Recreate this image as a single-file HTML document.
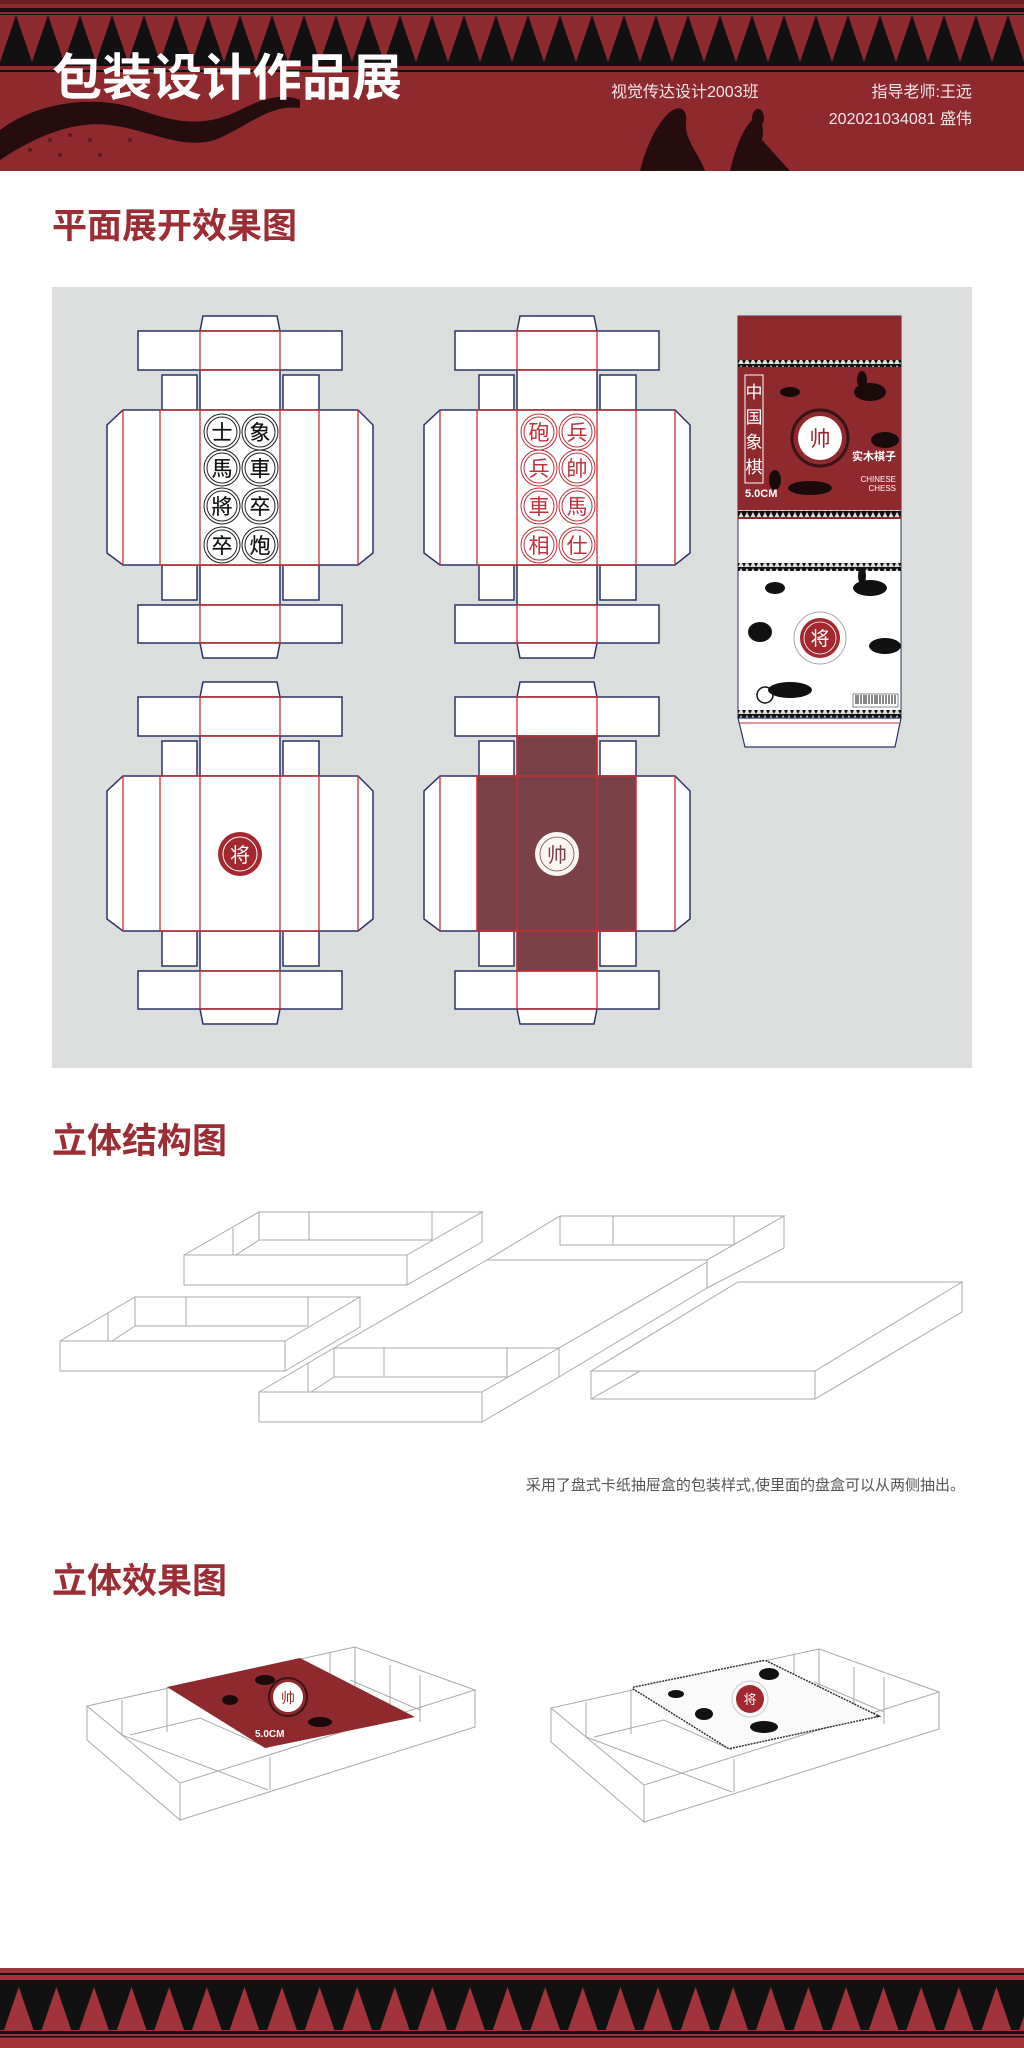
<!DOCTYPE html>
<html><head><meta charset="utf-8"><style>
html,body{margin:0;padding:0;background:#fff}
svg{display:block}
text{font-family:"Liberation Sans","Noto Sans CJK SC",sans-serif}
</style></head><body>
<svg width="1024" height="2048" viewBox="0 0 1024 2048" xmlns="http://www.w3.org/2000/svg">
<defs>
<pattern id="triH" x="0" y="15" width="32" height="47" patternUnits="userSpaceOnUse">
<rect width="32" height="47" fill="#8e2a2e"/><polygon points="0,47 16,0 32,47" fill="#111"/></pattern>
<pattern id="triF" x="0" y="1984" width="37.6" height="46" patternUnits="userSpaceOnUse">
<rect width="37.6" height="46" fill="#111"/><polygon points="4,46 18.8,3 33.6,46" fill="#a3333a"/></pattern>
<pattern id="triS" x="0" y="0" width="6" height="7" patternUnits="userSpaceOnUse">
<rect width="6" height="7" fill="#111"/><polygon points="0,7 3,1 6,7" fill="#ddd"/></pattern>
<g id="net">
 <polygon points="200,331 203,316 277,316 280,331" fill="#fff" stroke="#2b3468" stroke-width="1.5"/>
 <rect x="138" y="331" width="204" height="39" fill="#fff" stroke="#2b3468" stroke-width="1.5"/>
 <rect x="200" y="370" width="80" height="40" fill="#fff" stroke="#2b3468" stroke-width="1.5"/>
 <rect x="162" y="375" width="35" height="35" fill="#fff" stroke="#2b3468" stroke-width="1.5"/>
 <rect x="283" y="375" width="36" height="35" fill="#fff" stroke="#2b3468" stroke-width="1.5"/>
 <rect x="162" y="565" width="35" height="35" fill="#fff" stroke="#2b3468" stroke-width="1.5"/>
 <rect x="283" y="565" width="36" height="35" fill="#fff" stroke="#2b3468" stroke-width="1.5"/>
 <rect x="200" y="565" width="80" height="40" fill="#fff" stroke="#2b3468" stroke-width="1.5"/>
 <rect x="138" y="605" width="204" height="38" fill="#fff" stroke="#2b3468" stroke-width="1.5"/>
 <polygon points="200,643 203,658 277,658 280,643" fill="#fff" stroke="#2b3468" stroke-width="1.5"/>
 <polygon points="123,410 358,410 373,425 373,553 358,565 123,565 107,553 107,425" fill="#fff" stroke="#2b3468" stroke-width="1.5"/>
 <g stroke="#d42a2a" stroke-width="1.3" fill="none">
  <rect x="200" y="331" width="80" height="39"/>
  <rect x="200" y="605" width="80" height="38"/>
  <line x1="123" y1="410" x2="123" y2="565"/><line x1="358" y1="410" x2="358" y2="565"/>
  <rect x="160" y="410" width="159" height="155"/>
  <line x1="200" y1="410" x2="200" y2="565"/><line x1="280" y1="410" x2="280" y2="565"/>
 </g>
</g>
</defs>

<!-- header -->
<rect x="0" y="0" width="1024" height="171" fill="#8e2a2e"/>
<rect x="0" y="0" width="1024" height="4" fill="#6d1f22"/>
<rect x="0" y="8" width="1024" height="4" fill="#111"/>
<rect x="0" y="14" width="1024" height="1.5" fill="#111"/>
<rect x="0" y="15" width="1024" height="47" fill="url(#triH)"/>
<rect x="0" y="62" width="1024" height="4" fill="#111"/>
<rect x="0" y="70" width="1024" height="2" fill="#111"/>
<g fill="#1a0a0a" opacity="0.9">
 <path d="M0,130 C40,100 100,95 140,110 C170,120 200,130 240,110 C260,100 280,92 300,100 L300,108 C270,104 250,125 215,140 C180,150 150,130 110,125 C70,120 30,140 0,160 Z"/>
 <path d="M640,171 C645,150 655,125 670,112 C680,104 688,110 686,122 C684,140 700,155 705,171 Z"/>
 <path d="M730,171 C735,150 742,130 752,120 C760,115 765,125 762,140 L790,171 Z"/>
 <ellipse cx="758" cy="118" rx="6" ry="9"/>
</g>
<g fill="#2a0f10" opacity="0.55">
 <circle cx="30" cy="150" r="2"/><circle cx="50" cy="140" r="2"/><circle cx="70" cy="135" r="2"/><circle cx="90" cy="140" r="2"/><circle cx="60" cy="155" r="2"/><circle cx="100" cy="155" r="2"/><circle cx="130" cy="140" r="2"/>
</g>
<text x="52" y="95" font-size="50" font-weight="bold" fill="#fff">包装设计作品展</text>
<text x="611" y="97" font-size="16" fill="#f2e6e6">视觉传达设计2003班</text>
<text x="972" y="97" font-size="16" fill="#f2e6e6" text-anchor="end">指导老师:王远</text>
<text x="972" y="124" font-size="16" fill="#f2e6e6" text-anchor="end">202021034081  盛伟</text>

<!-- section 1 -->
<text x="52" y="238" font-size="35" font-weight="bold" fill="#9b2d35">平面展开效果图</text>
<rect x="52" y="287" width="920" height="781" fill="#dcdddd"/>

<use href="#net"/>
<g font-size="21" text-anchor="middle" fill="#111" stroke="#111" stroke-width="0.2">
 <g fill="none" stroke="#222" stroke-width="1">
  <circle cx="222" cy="432" r="18"/><circle cx="222" cy="432" r="15"/>
  <circle cx="260" cy="432" r="18"/><circle cx="260" cy="432" r="15"/>
  <circle cx="222" cy="468" r="18"/><circle cx="222" cy="468" r="15"/>
  <circle cx="260" cy="468" r="18"/><circle cx="260" cy="468" r="15"/>
  <circle cx="222" cy="506" r="18"/><circle cx="222" cy="506" r="15"/>
  <circle cx="260" cy="506" r="18"/><circle cx="260" cy="506" r="15"/>
  <circle cx="222" cy="545" r="18"/><circle cx="222" cy="545" r="15"/>
  <circle cx="260" cy="545" r="18"/><circle cx="260" cy="545" r="15"/>
 </g>
 <text x="222" y="440">士</text><text x="260" y="440">象</text>
 <text x="222" y="476">馬</text><text x="260" y="476">車</text>
 <text x="222" y="514">將</text><text x="260" y="514">卒</text>
 <text x="222" y="553">卒</text><text x="260" y="553">炮</text>
</g>

<g transform="translate(317,0)">
<use href="#net"/>
<g font-size="21" text-anchor="middle" fill="#c0323a">
 <g fill="none" stroke="#c0323a" stroke-width="1">
  <circle cx="222" cy="432" r="18"/><circle cx="222" cy="432" r="15"/>
  <circle cx="260" cy="432" r="18"/><circle cx="260" cy="432" r="15"/>
  <circle cx="222" cy="468" r="18"/><circle cx="222" cy="468" r="15"/>
  <circle cx="260" cy="468" r="18"/><circle cx="260" cy="468" r="15"/>
  <circle cx="222" cy="506" r="18"/><circle cx="222" cy="506" r="15"/>
  <circle cx="260" cy="506" r="18"/><circle cx="260" cy="506" r="15"/>
  <circle cx="222" cy="545" r="18"/><circle cx="222" cy="545" r="15"/>
  <circle cx="260" cy="545" r="18"/><circle cx="260" cy="545" r="15"/>
 </g>
 <text x="222" y="440">砲</text><text x="260" y="440">兵</text>
 <text x="222" y="476">兵</text><text x="260" y="476">帥</text>
 <text x="222" y="514">車</text><text x="260" y="514">馬</text>
 <text x="222" y="553">相</text><text x="260" y="553">仕</text>
</g>
</g>

<g transform="translate(0,366)">
<use href="#net"/>
<circle cx="240" cy="488" r="22" fill="#a3282f"/>
<circle cx="240" cy="488" r="17" fill="none" stroke="#fff" stroke-width="1"/>
<text x="240" y="496" font-size="20" fill="#fff" text-anchor="middle">将</text>
</g>

<g transform="translate(317,366)">
<use href="#net"/>
<rect x="200" y="370" width="80" height="235" fill="#7a4246"/>
<rect x="160" y="410" width="159" height="155" fill="#7a4246"/>
<g stroke="#d42a2a" stroke-width="1.3" fill="none">
 <rect x="160" y="410" width="159" height="155"/>
 <line x1="200" y1="370" x2="200" y2="605"/><line x1="280" y1="370" x2="280" y2="605"/>
 <line x1="200" y1="370" x2="280" y2="370"/><line x1="200" y1="605" x2="280" y2="605"/>
</g>
<circle cx="240" cy="488" r="22" fill="#fbf6f2"/>
<circle cx="240" cy="488" r="17" fill="none" stroke="#7a4246" stroke-width="0.8"/>
<text x="240" y="496" font-size="20" fill="#7a4246" text-anchor="middle">帅</text>
</g>

<!-- right panel -->
<rect x="738" y="316" width="163" height="402" fill="#fff" stroke="#2b3468" stroke-width="1"/>
<rect x="738" y="316" width="163" height="203" fill="#8e2a2e"/>
<rect x="738" y="360" width="163" height="7" fill="url(#triS)"/>
<rect x="738" y="510" width="163" height="7" fill="url(#triS)"/>
<g fill="#1a0b0b">
 <ellipse cx="870" cy="392" rx="16" ry="9"/><ellipse cx="862" cy="380" rx="5" ry="9"/>
 <ellipse cx="790" cy="392" rx="10" ry="5"/>
 <ellipse cx="810" cy="488" rx="22" ry="7"/><ellipse cx="775" cy="480" rx="6" ry="10"/>
 <ellipse cx="885" cy="440" rx="14" ry="8"/>
</g>
<rect x="745" y="375" width="18" height="108" fill="none" stroke="#fff" stroke-width="1"/>
<g font-size="17" fill="#fff" text-anchor="middle" font-family="Noto Sans CJK SC">
 <text x="754" y="398">中</text><text x="754" y="423">国</text><text x="754" y="448">象</text><text x="754" y="473">棋</text>
</g>
<circle cx="820" cy="438" r="28" fill="none" stroke="#3a1414" stroke-width="3"/>
<circle cx="820" cy="438" r="22" fill="#fff"/>
<text x="820" y="446" font-size="21" fill="#8e2a2e" text-anchor="middle">帅</text>
<text x="896" y="460" font-size="11" font-weight="bold" fill="#fff" text-anchor="end">实木棋子</text>
<text x="896" y="482" font-size="8" fill="#fff" text-anchor="end">CHINESE</text>
<text x="896" y="491" font-size="8" fill="#fff" text-anchor="end">CHESS</text>
<text x="745" y="497" font-size="11" font-weight="bold" fill="#fff">5.0CM</text>
<rect x="738" y="563" width="163" height="8" fill="url(#triS)"/>
<rect x="738" y="710" width="163" height="8" fill="url(#triS)"/>
<g fill="#111">
 <ellipse cx="870" cy="588" rx="17" ry="8"/><ellipse cx="862" cy="576" rx="4" ry="9"/>
 <ellipse cx="760" cy="632" rx="12" ry="10"/><ellipse cx="885" cy="646" rx="16" ry="8"/>
 <ellipse cx="790" cy="690" rx="22" ry="8"/><circle cx="765" cy="695" r="8" fill="none" stroke="#111" stroke-width="1.5"/>
 <ellipse cx="775" cy="588" rx="10" ry="6"/>
</g>
<circle cx="820" cy="638" r="26" fill="none" stroke="#aaa" stroke-width="1"/>
<circle cx="820" cy="638" r="20" fill="#a3282f"/>
<circle cx="820" cy="638" r="16" fill="none" stroke="#fff" stroke-width="0.8"/>
<text x="820" y="645" font-size="19" fill="#fff" text-anchor="middle">将</text>
<rect x="853" y="694" width="45" height="13" fill="#fff" stroke="#111" stroke-width="0.5"/>
<g stroke="#111" stroke-width="1"><path d="M856,695v9M858,695v9M861,695v9M864,695v9M866,695v9M869,695v9M872,695v9M875,695v9M877,695v9M880,695v9M883,695v9M886,695v9M889,695v9M892,695v9M895,695v9"/></g>
<polygon points="738,718 901,718 895,747 745,747" fill="#fff" stroke="#2b3468" stroke-width="1.2"/>
<line x1="740" y1="723" x2="899" y2="723" stroke="#c0323a" stroke-width="1"/>

<!-- section 2 -->
<text x="52" y="1153" font-size="35" font-weight="bold" fill="#9b2d35">立体结构图</text>
<g fill="none" stroke="#aaa" stroke-width="1">
 <rect x="184" y="1255" width="223" height="30" fill="#fff"/>
 <polyline points="184,1255 259,1212 482,1212 407,1255"/>
 <polyline points="482,1212 482,1242 407,1285"/>
 <line x1="259" y1="1212" x2="259" y2="1240"/><line x1="259" y1="1240" x2="432" y2="1240"/>
 <line x1="309" y1="1212" x2="309" y2="1240"/><line x1="432" y1="1212" x2="432" y2="1240"/>
 <line x1="233" y1="1228" x2="233" y2="1255"/><line x1="259" y1="1240" x2="236" y2="1255"/>
 <rect x="60" y="1341" width="225" height="30" fill="#fff"/>
 <polyline points="60,1341 135,1297 360,1297 285,1341"/>
 <polyline points="360,1297 360,1327 285,1371"/>
 <line x1="135" y1="1297" x2="135" y2="1326"/><line x1="135" y1="1326" x2="308" y2="1326"/>
 <line x1="186" y1="1297" x2="186" y2="1326"/><line x1="308" y1="1297" x2="308" y2="1326"/>
 <line x1="108" y1="1313" x2="108" y2="1341"/><line x1="135" y1="1326" x2="112" y2="1341"/>
 <line x1="334" y1="1348" x2="487" y2="1260"/>
 <line x1="559" y1="1348" x2="707" y2="1262"/>
 <line x1="559" y1="1377" x2="707" y2="1288"/>
 <polyline points="487,1260 560,1216 784,1216 707,1260 487,1260"/>
 <line x1="707" y1="1260" x2="707" y2="1288"/>
 <polyline points="784,1216 784,1248 707,1288"/>
 <line x1="560" y1="1216" x2="560" y2="1245"/><line x1="560" y1="1245" x2="733" y2="1245"/>
 <line x1="613" y1="1216" x2="613" y2="1245"/><line x1="734" y1="1216" x2="734" y2="1245"/>
 <rect x="259" y="1392" width="223" height="30" fill="#fff"/>
 <polyline points="259,1392 334,1348 559,1348 482,1392"/>
 <polyline points="559,1348 559,1377 482,1422"/>
 <line x1="334" y1="1348" x2="334" y2="1377"/><line x1="334" y1="1377" x2="507" y2="1377"/>
 <line x1="384" y1="1348" x2="384" y2="1377"/><line x1="507" y1="1348" x2="507" y2="1377"/>
 <line x1="308" y1="1364" x2="308" y2="1392"/><line x1="334" y1="1377" x2="311" y2="1392"/>
 <polygon points="738,1282 962,1282 815,1371 591,1371" fill="#fff"/>
 <rect x="591" y="1371" width="224" height="28" fill="#fff"/>
 <polyline points="962,1282 962,1312 815,1399"/>
 <line x1="591" y1="1399" x2="640" y2="1371"/>
</g>
<text x="965" y="1490" font-size="15" fill="#555" text-anchor="end">采用了盘式卡纸抽屉盒的包装样式,使里面的盘盒可以从两侧抽出。</text>

<!-- section 3 -->
<text x="52" y="1593" font-size="35" font-weight="bold" fill="#9b2d35">立体效果图</text>
<g id="box3d" fill="none" stroke="#aaa" stroke-width="1">
 <polygon points="87,1706 355,1647 475,1690 180,1783" fill="#fff"/>
 <polyline points="87,1706 87,1740 180,1820 180,1783"/>
 <polyline points="180,1820 475,1727 475,1690"/>
 <line x1="270" y1="1757" x2="270" y2="1790"/>
 <polyline points="122,1700 122,1735 268,1790"/>
 <polyline points="130,1735 200,1718 268,1748"/>
 <line x1="167" y1="1687" x2="167" y2="1732"/>
 <line x1="330" y1="1653" x2="330" y2="1700"/><line x1="355" y1="1647" x2="355" y2="1695"/>
 <line x1="390" y1="1665" x2="390" y2="1712"/><line x1="420" y1="1675" x2="420" y2="1722"/>
 <line x1="350" y1="1680" x2="420" y2="1710"/>
</g>
<polygon points="167,1687 300,1658 415,1717 265,1748" fill="#8e2a2e"/>
<circle cx="288" cy="1697" r="15" fill="#fff"/>
<circle cx="288" cy="1697" r="19" fill="none" stroke="#3a1414" stroke-width="2"/>
<text x="288" y="1703" font-size="14" fill="#8e2a2e" text-anchor="middle">帅</text>
<g fill="#1a0b0b"><ellipse cx="265" cy="1680" rx="10" ry="5"/><ellipse cx="320" cy="1722" rx="12" ry="5"/><ellipse cx="230" cy="1700" rx="8" ry="5"/></g>
<text x="255" y="1737" font-size="10" font-weight="bold" fill="#fff">5.0CM</text>

<g transform="translate(464,2)">
<use href="#box3d"/>
<polygon points="169,1686 301,1659 413,1714 265,1746" fill="#fff" stroke="#333" stroke-width="3" stroke-dasharray="2,1"/>
<polygon points="169,1686 301,1659 413,1714 265,1746" fill="#fafafa"/>
<circle cx="286" cy="1697" r="18" fill="none" stroke="#ccc"/>
<circle cx="286" cy="1697" r="14" fill="#a3282f"/>
<text x="286" y="1702" font-size="13" fill="#fff" text-anchor="middle">将</text>
<g fill="#111"><ellipse cx="305" cy="1672" rx="10" ry="6"/><ellipse cx="240" cy="1712" rx="9" ry="6"/><ellipse cx="300" cy="1725" rx="14" ry="6"/><ellipse cx="212" cy="1692" rx="8" ry="4"/></g>
</g>

<!-- footer -->
<rect x="0" y="1968" width="1024" height="80" fill="#a3333a"/>
<rect x="0" y="1973" width="1024" height="2" fill="#111"/>
<rect x="0" y="1980" width="1024" height="4" fill="#111"/>
<rect x="0" y="1984" width="1024" height="46" fill="url(#triF)"/>
<rect x="0" y="2031" width="1024" height="3" fill="#111"/>
<rect x="0" y="2036" width="1024" height="1.5" fill="#111"/>
</svg>
</body></html>
